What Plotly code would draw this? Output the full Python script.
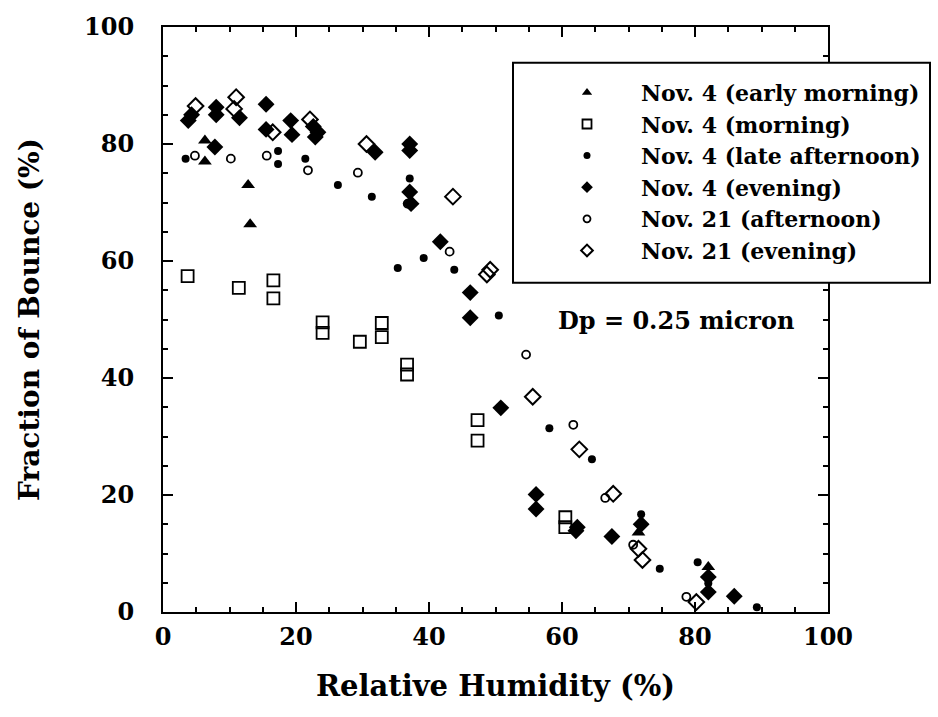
import plotly.graph_objects as go

# Relative humidity (%) and fraction of bounce (%) for each sampling period
early_morning_rh = [6.3, 6.3, 12.8, 13.1, 71.5, 82.0]
early_morning_fb = [80.6, 77.0, 73.0, 66.3, 13.6, 7.7]

morning_rh = [3.7, 11.4, 16.6, 16.6, 24.0, 24.0, 29.6, 32.9, 32.9, 36.7, 36.7, 47.3, 47.3, 60.5, 60.5]
morning_fb = [57.4, 55.4, 56.7, 53.6, 49.5, 47.7, 46.2, 49.4, 47.0, 42.3, 40.6, 32.8, 29.3, 16.2, 14.5]

late_afternoon_rh = [3.4, 17.3, 17.3, 21.4, 26.3, 31.4, 35.3, 37.1, 39.2, 43.8, 50.5, 58.1,
                     64.5, 71.9, 74.7, 80.4, 82.0, 89.3]
late_afternoon_fb = [77.5, 78.8, 76.6, 77.5, 73.0, 71.0, 58.8, 74.1, 60.5, 58.5, 50.7, 31.4,
                     26.1, 16.7, 7.4, 8.5, 4.9, 0.8]

evening_rh = [3.8, 4.3, 7.8, 8.0, 8.0, 11.5, 15.5, 15.5, 19.2, 19.4, 22.6, 23.3, 22.9, 31.9,
              37.1, 37.1, 37.1, 37.3, 41.7, 46.2, 46.2, 50.8, 56.1, 56.1, 62.1, 62.3, 67.5,
              71.9, 82.0, 82.0, 85.9]
evening_fb = [84.0, 85.0, 79.5, 85.0, 86.3, 84.5, 86.8, 82.5, 84.0, 81.6, 83.0, 82.0, 81.2, 78.6,
              80.0, 78.9, 71.8, 69.8, 63.3, 54.6, 50.3, 34.9, 20.1, 17.6, 13.9, 14.5, 12.9,
              15.0, 6.0, 3.4, 2.7]

nov21_afternoon_rh = [4.8, 10.2, 15.6, 21.8, 29.3, 36.8, 43.1, 54.6, 61.7, 66.5, 70.7, 78.7]
nov21_afternoon_fb = [78.0, 77.5, 78.0, 75.5, 75.1, 69.8, 61.6, 44.0, 32.0, 19.5, 11.5, 2.6]

nov21_evening_rh = [4.9, 11.0, 10.7, 16.5, 22.1, 30.6, 43.6, 49.2, 48.7, 55.6, 62.6, 67.7,
                    71.5, 72.1, 80.2]
nov21_evening_fb = [86.5, 88.0, 86.0, 82.0, 84.2, 80.0, 71.0, 58.5, 57.7, 36.8, 27.8, 20.2,
                    10.8, 8.9, 1.7]

# name, x, y, symbol, plot size, legend size, outline width
series = [
    ("Nov. 4 (early morning)", early_morning_rh, early_morning_fb, "triangle-up", 12, 9, 0),
    ("Nov. 4 (morning)", morning_rh, morning_fb, "square-open", 12, 9, 1.8),
    ("Nov. 4 (late afternoon)", late_afternoon_rh, late_afternoon_fb, "circle", 8, 7, 0),
    ("Nov. 4 (evening)", evening_rh, evening_fb, "diamond", 13, 9, 0),
    ("Nov. 21 (afternoon)", nov21_afternoon_rh, nov21_afternoon_fb, "circle-open", 8, 7, 1.8),
    ("Nov. 21 (evening)", nov21_evening_rh, nov21_evening_fb, "diamond-open", 12, 9, 2),
]

FONT = "DejaVu Serif"

fig = go.Figure()
for i, (name, xs, ys, sym, size, lsize, lw) in enumerate(series):
    fig.add_trace(go.Scatter(
        x=xs, y=ys, mode="markers", name=name, showlegend=False,
        marker=dict(symbol=sym, size=size, color="black",
                    line=dict(color="black", width=lw)),
    ))
    # legend key with the smaller symbol used in the key box
    fig.add_trace(go.Scatter(
        x=[None], y=[None], mode="markers", name=name, legendgroup=f"g{i}",
        marker=dict(symbol=sym, size=lsize, color="black",
                    line=dict(color="black", width=lw)),
    ))

axis_common = dict(
    showline=True, linecolor="black", linewidth=2, mirror="allticks",
    ticks="inside", ticklen=10, tickwidth=2, tickcolor="black",
    showgrid=False, zeroline=False, dtick=20,
    minor=dict(dtick=5, ticks="inside", ticklen=5, tickwidth=1.5, tickcolor="black"),
    tickfont=dict(family=FONT, size=24, color="black", weight="bold"),
)

fig.update_xaxes(range=[0, 100], title=dict(text="Relative Humidity (%)", standoff=26,
                 font=dict(family=FONT, size=29, color="black", weight="bold")),
                 ticklabelstandoff=2, **axis_common)
fig.update_yaxes(range=[0, 100], title=dict(text="Fraction of Bounce (%)", standoff=36,
                 font=dict(family=FONT, size=28, color="black", weight="bold")),
                 ticklabelstandoff=22, **axis_common)

# legend frame
fig.add_shape(type="rect", xref="paper", yref="paper",
              x0=(513 - 163) / 665, x1=(930 - 163) / 665,
              y0=(612 - 280) / 590, y1=(612 - 58) / 590,
              line=dict(color="black", width=2), fillcolor="white", layer="above")

fig.add_annotation(text="Dp = 0.25 micron", x=77.1, y=49.8, xref="x", yref="y",
                   showarrow=False,
                   font=dict(family=FONT, size=24, color="black", weight="bold"))

fig.update_layout(
    width=938, height=717,
    margin=dict(l=163, r=110, t=22, b=105),
    paper_bgcolor="white", plot_bgcolor="white",
    showlegend=True,
    legend=dict(
        x=(513 - 163) / 665, y=(612 - 67) / 590, xanchor="left", yanchor="top",
        bgcolor="rgba(0,0,0,0)", borderwidth=0, itemwidth=98, indentation=20,
        tracegroupgap=0, itemclick=False,
        font=dict(family=FONT, size=22, color="black", weight="bold"),
    ),
)

fig.write_html("out.html")
